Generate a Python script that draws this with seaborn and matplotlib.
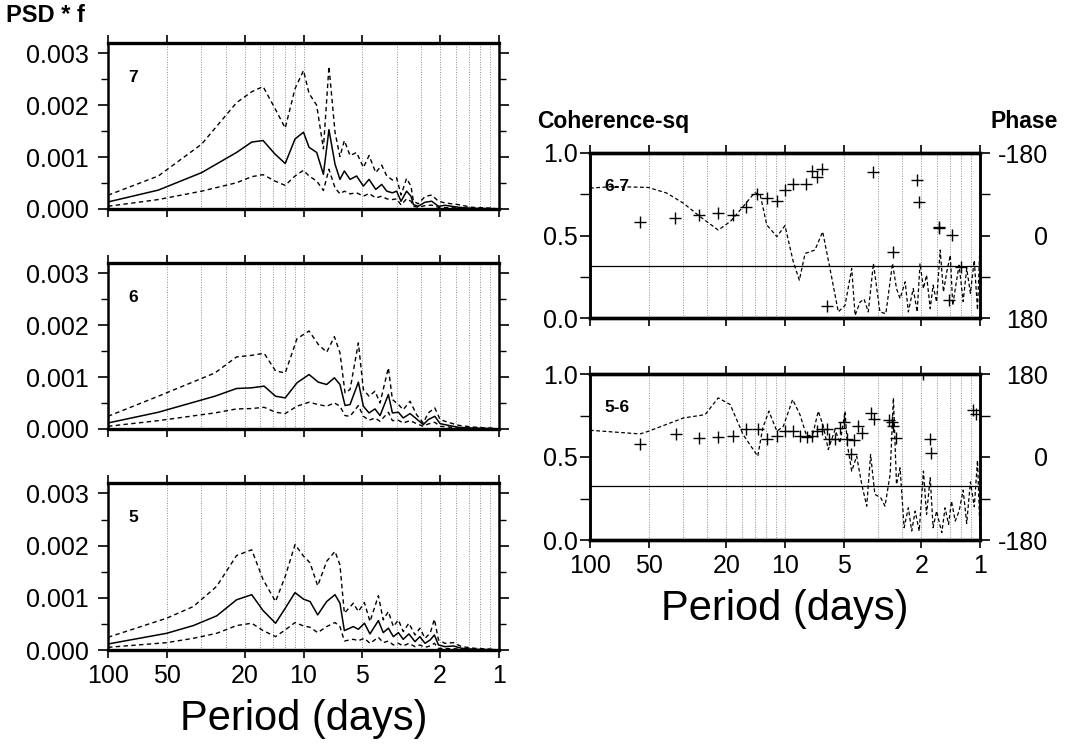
import matplotlib
matplotlib.use('Agg')
import matplotlib.pyplot as plt
import seaborn as sns
from matplotlib.ticker import FixedLocator, NullFormatter, FuncFormatter

sns.set_theme(style='white')
plt.rcParams['font.family'] = ['Liberation Sans', 'DejaVu Sans']
plt.rcParams.update({'axes.edgecolor': 'black', 'xtick.color': 'black', 'ytick.color': 'black',
                     'text.color': 'black', 'axes.labelcolor': 'black'})

# ---------------- data ----------------
MAJOR_PERIODS = [100, 50, 20, 10, 5, 2, 1]
GRID_PERIODS = [33.33, 25, 16.67, 14.29, 12.5, 11.11, 3.333, 2.5, 1.667, 1.429, 1.25, 1.111]

# station 7
P7_PERIOD = [100, 55.3, 33.2, 22.0, 18.4, 16.1, 14.0, 12.4, 11.05, 10.0, 9.37, 8.56, 7.91, 7.41, 6.90,
             6.51, 6.18, 5.78, 5.35, 4.94, 4.62, 4.27, 3.98, 3.75, 3.51, 3.34, 3.17, 2.97, 2.82, 2.74,
             2.59, 2.39, 2.21, 2.04, 1.89, 1.61, 1.38, 1.05]
P7_MEAN = [1.36e-4, 3.64e-4, 7.01e-4, 1.09e-3, 1.29e-3, 1.32e-3, 1.06e-3, 8.77e-4, 1.35e-3, 1.48e-3,
           1.19e-3, 1.09e-3, 6.69e-4, 1.53e-3, 8.64e-4, 5.71e-4, 7.34e-4, 5.71e-4, 6.36e-4, 4.42e-4,
           5.71e-4, 3.77e-4, 4.74e-4, 3.44e-4, 3.12e-4, 3.44e-4, 1.49e-4, 3.44e-4, 2.47e-4, 8.4e-5,
           5.2e-5, 1.3e-4, 1.5e-4, 5.2e-5, 7.1e-5, 3.3e-5, 1.3e-5, 6e-6]
P7_UPPER = [2.66e-4, 6.36e-4, 1.25e-3, 2.05e-3, 2.26e-3, 2.36e-3, 1.94e-3, 1.56e-3, 2.32e-3, 2.67e-3,
            2.23e-3, 2.0e-3, 1.16e-3, 2.75e-3, 1.48e-3, 1.01e-3, 1.32e-3, 1.03e-3, 1.09e-3, 7.99e-4,
            1.03e-3, 7.01e-4, 8.44e-4, 6.36e-4, 5.6e-4, 6.0e-4, 2.7e-4, 5.9e-4, 4.4e-4, 1.5e-4,
            1.0e-4, 2.4e-4, 2.7e-4, 1.49e-4, 1.17e-4, 8.4e-5, 3.3e-5, 1.3e-5]
P7_LOWER = [5.2e-5, 1.82e-4, 3.44e-4, 5.06e-4, 6.23e-4, 6.62e-4, 5.39e-4, 4.55e-4, 6.36e-4, 7.47e-4,
            6.36e-4, 5.39e-4, 3.57e-4, 7.66e-4, 4.09e-4, 2.92e-4, 3.44e-4, 2.92e-4, 3.12e-4, 2.47e-4,
            2.99e-4, 2.14e-4, 2.47e-4, 1.95e-4, 1.82e-4, 1.95e-4, 7.8e-5, 1.95e-4, 1.49e-4, 5.2e-5,
            3.3e-5, 6.5e-5, 7.5e-5, 3.3e-5, 2.6e-5, 2.0e-5, 7e-6, 0.0]

# station 6
P6_PERIOD = [100, 55.3, 28.4, 22.0, 18.4, 15.9, 13.9, 12.4, 10.8, 9.37, 8.40, 7.61, 6.95, 6.51, 6.13,
             5.78, 5.24, 4.94, 4.62, 4.31, 4.06, 3.68, 3.51, 3.27, 3.09, 2.85, 2.64, 2.44, 2.30, 2.13,
             2.00, 1.82, 1.61, 1.38, 1.05]
P6_MEAN = [1.16e-4, 3.23e-4, 6.32e-4, 7.81e-4, 7.94e-4, 8.26e-4, 6.32e-4, 6.0e-4, 8.9e-4, 1.05e-3,
           9.03e-4, 8.58e-4, 9.87e-4, 8.58e-4, 4.52e-4, 4.71e-4, 9.03e-4, 4.39e-4, 3.1e-4, 3.87e-4,
           2.58e-4, 6.65e-4, 3.1e-4, 3.23e-4, 2.13e-4, 2.97e-4, 1.94e-4, 8.4e-5, 1.81e-4, 2.45e-4,
           1.03e-4, 7.1e-5, 3.2e-5, 1.9e-5, 6e-6]
P6_UPPER = [2.45e-4, 6.32e-4, 1.08e-3, 1.39e-3, 1.42e-3, 1.46e-3, 1.12e-3, 1.08e-3, 1.74e-3, 1.89e-3,
            1.63e-3, 1.48e-3, 1.78e-3, 1.47e-3, 6.97e-4, 7.61e-4, 1.66e-3, 7.61e-4, 6.32e-4, 7.29e-4,
            5.03e-4, 1.18e-3, 5.68e-4, 4.71e-4, 3.74e-4, 5.35e-4, 2.77e-4, 1.16e-4, 3.1e-4, 4.06e-4,
            1.81e-4, 1.29e-4, 7.1e-5, 3.9e-5, 1.3e-5]
P6_LOWER = [5.2e-5, 1.61e-4, 3.1e-4, 3.87e-4, 3.94e-4, 4.19e-4, 3.23e-4, 2.97e-4, 4.39e-4, 5.16e-4,
            4.71e-4, 4.39e-4, 5.03e-4, 4.39e-4, 2.58e-4, 2.45e-4, 4.52e-4, 2.45e-4, 1.68e-4, 2.13e-4,
            1.48e-4, 3.23e-4, 1.61e-4, 1.68e-4, 1.16e-4, 1.61e-4, 1.03e-4, 5.2e-5, 9.7e-5, 1.29e-4,
            5.2e-5, 3.9e-5, 1.9e-5, 6e-6, 0.0]

# station 5
P5_PERIOD = [100, 50.1, 36.6, 27.8, 22.0, 18.4, 16.1, 13.9, 12.4, 11.05, 10.0, 9.26, 8.46, 7.61, 6.90,
             6.51, 6.18, 5.56, 5.24, 4.88, 4.57, 4.14, 3.91, 3.68, 3.47, 3.27, 3.09, 2.89, 2.69, 2.54,
             2.39, 2.25, 2.14, 2.04, 1.89, 1.71, 1.55, 1.33, 1.05]
P5_MEAN = [1.15e-4, 3.2e-4, 4.68e-4, 6.54e-4, 9.62e-4, 1.06e-3, 7.56e-4, 5.13e-4, 8.01e-4, 1.10e-3,
           9.74e-4, 9.29e-4, 6.73e-4, 9.29e-4, 1.06e-3, 8.97e-4, 3.72e-4, 4.49e-4, 3.97e-4, 5.13e-4,
           3.08e-4, 5.64e-4, 3.33e-4, 4.17e-4, 2.56e-4, 3.33e-4, 2.05e-4, 3.08e-4, 1.6e-4, 2.56e-4,
           1.28e-4, 1.92e-4, 2.88e-4, 9.6e-5, 6.4e-5, 7.7e-5, 3.2e-5, 1.3e-5, 6e-6]
P5_UPPER = [2.44e-4, 6.09e-4, 8.33e-4, 1.22e-3, 1.81e-3, 1.92e-3, 1.35e-3, 9.29e-4, 1.41e-3, 2.02e-3,
            1.80e-3, 1.67e-3, 1.23e-3, 1.70e-3, 1.89e-3, 1.63e-3, 7.05e-4, 8.97e-4, 7.37e-4, 9.1e-4,
            5.45e-4, 1.04e-3, 5.77e-4, 7.37e-4, 4.49e-4, 5.77e-4, 3.53e-4, 5.13e-4, 2.88e-4, 4.17e-4,
            2.24e-4, 3.2e-4, 5.9e-4, 1.92e-4, 1.28e-4, 1.41e-4, 6.4e-5, 3.2e-5, 1.3e-5]
P5_LOWER = [5.1e-5, 1.41e-4, 2.24e-4, 3.2e-4, 4.68e-4, 5.13e-4, 3.72e-4, 2.56e-4, 3.85e-4, 5.26e-4,
            4.62e-4, 4.36e-4, 3.33e-4, 4.49e-4, 5.26e-4, 4.49e-4, 1.73e-4, 2.05e-4, 1.79e-4, 2.24e-4,
            1.28e-4, 2.44e-4, 1.41e-4, 1.73e-4, 9.6e-5, 1.28e-4, 7.7e-5, 1.28e-4, 6.4e-5, 9.6e-5,
            5.1e-5, 7.7e-5, 1.28e-4, 3.2e-5, 2.6e-5, 2.6e-5, 1.3e-5, 6e-6, 0.0]

# coherence-squared and phase, pair 6-7
COH67_PERIOD = [100, 75.9, 50.2, 40.4, 33.2, 27.3, 22.0, 19.1, 16.4, 14.3, 13.4, 12.4, 11.0, 10.0, 9.07,
                8.44, 7.89, 7.02, 6.41, 5.88, 5.33, 4.92, 4.55, 4.37, 4.12, 3.93, 3.74, 3.52, 3.26, 3.04,
                2.81, 2.68, 2.57, 2.42, 2.33, 2.20, 2.10, 2.03, 1.95, 1.88, 1.80, 1.74, 1.67, 1.60, 1.54,
                1.48, 1.42, 1.38, 1.33, 1.28, 1.22, 1.17, 1.12, 1.07, 1.03, 1.0]
COH67 = [0.787, 0.797, 0.791, 0.757, 0.696, 0.615, 0.533, 0.584, 0.675, 0.76, 0.746, 0.564, 0.493, 0.56,
         0.341, 0.229, 0.391, 0.412, 0.523, 0.30, 0.037, 0.077, 0.30, 0.016, 0.097, 0.114, 0.037, 0.331,
         0.037, 0.026, 0.331, 0.178, 0.118, 0.219, 0.037, 0.178, 0.037, 0.331, 0.178, 0.26, 0.057, 0.199,
         0.097, 0.412, 0.158, 0.28, 0.381, 0.077, 0.199, 0.32, 0.1, 0.3, 0.15, 0.35, 0.05, 0.45]
PH67_PERIOD = [55.4, 36.6, 27.6, 22.0, 18.4, 15.8, 13.9, 12.3, 11.0, 10.0, 9.14, 7.83, 7.30, 6.83, 6.43,
               6.11, 3.52, 2.81, 2.10, 2.05, 1.62, 1.63, 1.45, 1.40, 1.25]
PH67 = [-30, -38, -45, -49, -45, -63, -90, -81, -76, -100, -112, -112, -141, -127, -146,
        154, -138, 35, -122, -74, -17, -19, 141, -1, 68]
SIG67 = 0.318

# coherence-squared and phase, pair 5-6
COH56_PERIOD = [100, 55.4, 50.2, 33.2, 25.7, 22.0, 19.1, 16.4, 13.8, 13.0, 12.1, 11.0, 10.2, 9.14, 8.38,
                7.74, 7.21, 6.75, 6.36, 6.0, 5.54, 5.22, 4.92, 4.79, 4.55, 4.29, 4.04, 3.81, 3.64, 3.46,
                3.23, 3.07, 2.89, 2.78, 2.68, 2.57, 2.45, 2.33, 2.24, 2.15, 2.05, 1.95, 1.88, 1.80, 1.74,
                1.67, 1.57, 1.51, 1.45, 1.40, 1.34, 1.28, 1.22, 1.17, 1.12, 1.07, 1.03, 1.0]
COH56 = [0.661, 0.639, 0.655, 0.735, 0.755, 0.856, 0.816, 0.635, 0.505, 0.675, 0.776, 0.655, 0.685, 0.846,
         0.755, 0.625, 0.635, 0.776, 0.685, 0.545, 0.665, 0.585, 0.776, 0.575, 0.415, 0.505, 0.335, 0.204,
         0.515, 0.275, 0.255, 0.204, 0.395, 0.856, 0.335, 0.435, 0.074, 0.194, 0.054, 0.174, 0.054, 0.415,
         0.154, 0.375, 0.074, 0.174, 0.044, 0.194, 0.094, 0.234, 0.114, 0.174, 0.3, 0.1, 0.35, 0.2, 0.48, 0.05]
PH56_PERIOD = [55.4, 36.4, 27.5, 22.0, 18.4, 15.9, 13.8, 12.3, 11.0, 10.0, 9.07, 8.38, 7.74, 7.30, 6.88,
               6.49, 6.11, 5.93, 5.54, 5.22, 4.98, 4.79, 4.59, 4.41, 4.22, 4.04, 3.63, 3.50, 2.94, 2.83,
               2.81, 2.71, 1.95, 1.81, 1.79, 1.08, 1.05]
PH56 = [28, 49, 42, 43, 46, 61, 61, 39, 45, 57, 56, 45, 43, 45, 56, 60, 60, 38, 38, 63, 76, 38, 7, 36, 67,
        52, 96, 83, 81, 76, 67, 42, 179, 38, 8, 101, 94]
SIG56 = 0.328

PSD_YTICKS = [0.0, 0.001, 0.002, 0.003]
PSD_YMINOR = [0.0005, 0.0015, 0.0025]
COH_YTICKS = [0.0, 0.5, 1.0]
COH_YMINOR = [0.25, 0.75]
PHASE_TICKS = [-180, 0, 180]
PHASE_MINOR = [-90, 90]

# ---------------- figure ----------------
W, H = 1068, 747
fig = plt.figure(figsize=(W / 100, H / 100), dpi=100)


def px_axes(x0, y0, x1, y1):
    return fig.add_axes([x0 / W, 1 - y1 / H, (x1 - x0) / W, (y1 - y0) / H])


TICK_FS = 18
DASH = (0, (3.2, 2.4))


def style_period_axis(ax, show_labels):
    ax.set_xscale('log')
    ax.set_xlim(100, 1)
    ax.xaxis.set_major_locator(FixedLocator(MAJOR_PERIODS))
    ax.xaxis.set_major_formatter(FuncFormatter(lambda v, p: f'{v:g}'))
    ax.xaxis.set_minor_locator(FixedLocator(GRID_PERIODS))
    ax.xaxis.set_minor_formatter(NullFormatter())
    ax.grid(True, which='both', axis='x', color='#8c8c8c', linestyle=(0, (1, 1.6)), linewidth=0.7)
    ax.grid(False, axis='y')
    ax.tick_params(axis='x', which='major', direction='out', length=6, width=1.2,
                   top=True, bottom=True, labelsize=TICK_FS, pad=4, labelbottom=show_labels)
    ax.tick_params(axis='x', which='minor', length=0)
    for side, sp in ax.spines.items():
        sp.set_color('black')
        sp.set_linewidth(2.4 if side in ('top', 'bottom') else 1.8)
    ax.set_xlabel('')
    ax.set_ylabel('')


def psd_panel(ax, per, mean, upper, lower, label, show_labels):
    sns.lineplot(x=per, y=upper, ax=ax, color='black', linewidth=1.0, linestyle=DASH,
                 estimator=None, sort=False)
    sns.lineplot(x=per, y=lower, ax=ax, color='black', linewidth=1.0, linestyle=DASH,
                 estimator=None, sort=False)
    sns.lineplot(x=per, y=mean, ax=ax, color='black', linewidth=1.1,
                 estimator=None, sort=False)
    style_period_axis(ax, show_labels)
    ax.set_ylim(0, 0.0032)
    ax.yaxis.set_major_locator(FixedLocator(PSD_YTICKS))
    ax.yaxis.set_major_formatter(FuncFormatter(lambda v, p: f'{v:.3f}'))
    ax.yaxis.set_minor_locator(FixedLocator(PSD_YMINOR))
    ax.tick_params(axis='y', which='major', direction='out', length=7, width=1.2,
                   left=True, right=True, labelsize=TICK_FS, pad=7)
    ax.tick_params(axis='y', which='minor', direction='out', length=5, width=1.0,
                   left=True, right=True)
    ax.text(0.051, 0.765, label, transform=ax.transAxes, fontsize=12.5, fontweight='bold',
            ha='left', va='baseline')


def coh_panel(ax, cper, coh, pper, ph, sig, label, phase_lim, show_labels):
    sns.lineplot(x=cper, y=coh, ax=ax, color='black', linewidth=0.9, linestyle=(0, (3, 2)),
                 estimator=None, sort=False)
    ax.axhline(sig, color='black', linewidth=0.9)
    style_period_axis(ax, show_labels)
    ax.set_ylim(0, 1)
    ax.yaxis.set_major_locator(FixedLocator(COH_YTICKS))
    ax.yaxis.set_major_formatter(FuncFormatter(lambda v, p: f'{v:.1f}'))
    ax.yaxis.set_minor_locator(FixedLocator(COH_YMINOR))
    ax.tick_params(axis='y', which='major', direction='out', length=7, width=1.2,
                   left=True, right=False, labelsize=TICK_FS, pad=2)
    ax.tick_params(axis='y', which='minor', direction='out', length=7, width=1.0,
                   left=True, right=False)
    ax.text(0.036, 0.77, label, transform=ax.transAxes, fontsize=12.5, fontweight='bold',
            ha='left', va='baseline')

    ax2 = ax.twinx()
    sns.scatterplot(x=pper, y=ph, ax=ax2, marker='+', s=85, color='black', linewidth=1.0)
    ax2.set_ylim(*phase_lim)
    ax2.set_xlim(100, 1)
    ax2.yaxis.set_major_locator(FixedLocator(PHASE_TICKS))
    ax2.yaxis.set_major_formatter(FuncFormatter(lambda v, p: f'{v:g}'))
    ax2.yaxis.set_minor_locator(FixedLocator(PHASE_MINOR))
    ax2.tick_params(axis='y', which='major', direction='out', length=7, width=1.2,
                    right=True, left=False, labelsize=TICK_FS, pad=42)
    ax2.tick_params(axis='y', which='minor', direction='out', length=7, width=1.0, right=True)
    for t in ax2.get_yticklabels():
        t.set_ha('right')
    ax2.grid(False)
    ax2.set_ylabel('')
    for side, sp in ax2.spines.items():
        sp.set_color('black')
        sp.set_linewidth(2.4 if side in ('top', 'bottom') else 1.8)


ax7 = px_axes(108, 43, 499, 209)
ax6 = px_axes(108, 263, 499, 429)
ax5 = px_axes(108, 483, 499, 650)
psd_panel(ax7, P7_PERIOD, P7_MEAN, P7_UPPER, P7_LOWER, '7', False)
psd_panel(ax6, P6_PERIOD, P6_MEAN, P6_UPPER, P6_LOWER, '6', False)
psd_panel(ax5, P5_PERIOD, P5_MEAN, P5_UPPER, P5_LOWER, '5', True)

axc1 = px_axes(590, 153, 980, 318)
axc2 = px_axes(590, 374, 980, 540)
coh_panel(axc1, COH67_PERIOD, COH67, PH67_PERIOD, PH67, SIG67, '6-7', (180, -180), False)
coh_panel(axc2, COH56_PERIOD, COH56, PH56_PERIOD, PH56, SIG56, '5-6', (-180, 180), True)

fig.text(6 / W, 1 - 22 / H, 'PSD * f', fontsize=17, fontweight='bold', ha='left', va='baseline')
fig.text(537 / W, 1 - 128 / H, 'Coherence-sq', fontsize=16.5, fontweight='bold', ha='left', va='baseline')
fig.text(1058 / W, 1 - 128 / H, 'Phase', fontsize=16.5, fontweight='bold', ha='right', va='baseline')
fig.text(303.5 / W, 1 - 730 / H, 'Period (days)', fontsize=30, ha='center', va='baseline')
fig.text(785 / W, 1 - 620 / H, 'Period (days)', fontsize=30, ha='center', va='baseline')

fig.savefig('out.png', dpi=100, facecolor='white')
